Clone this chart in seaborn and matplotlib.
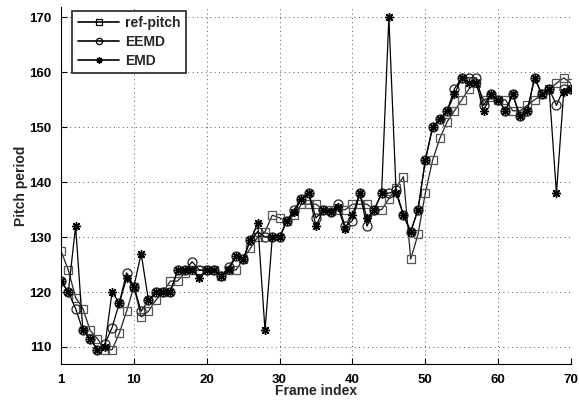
import matplotlib
matplotlib.use("Agg")
import matplotlib.pyplot as plt
import seaborn as sns
import numpy as np
import pandas as pd

frames = list(range(0, 71))
ref_pitch = [127.5, 124, 119, 117, 113, 111.5, 109.5, 109.5, 112.5, 116.5,
             121, 115.5, 116.5, 118.5, 120, 122, 122, 123.5, 124, 124,
             124, 124, 123, 124, 124, 126, 128, 130, 131, 134,
             133.5, 133, 134, 136, 136, 136, 135, 135, 135, 135,
             136, 136, 136, 135, 135, 137, 139, 141, 126, 130.5,
             138, 144, 148, 151, 153, 155, 157, 158, 155, 155.5,
             155, 155, 153, 153, 154, 155, 156, 157, 158, 159, 158]
eemd = [122, 120, 117, 113, 111.5, 109.5, 110.5, 113.5, 118, 123.5,
        121, 116.5, 118.5, 120, 120, 120, 124, 124, 125.5, 124,
        124, 124, 123, 124.5, 126.5, 126, 129.5, 131, 130, 130,
        130, 133, 135, 137, 138, 133.5, 135, 134.5, 136, 132,
        133, 138, 132, 135, 138, 138, 138.5, 134, 131, 135,
        144, 150, 151.5, 153, 157, 159, 159, 159, 154, 156,
        155, 153, 156, 152, 153, 159, 156, 157, 154, 157, 157]
emd = [122, 120, 132, 113, 111.5, 109.5, 110, 120, 118, 122.5,
       121, 127, 118.5, 120, 120, 120, 124, 124, 124, 122.5,
       124, 124, 123, 124, 126.5, 126, 129.5, 132.5, 113, 130,
       130, 133, 134.5, 137, 138, 132, 135, 134.5, 135.5, 131.5,
       134, 138, 133.5, 135, 138, 170, 138, 134, 131, 135,
       144, 150, 151.5, 153, 156, 159, 158, 158, 153, 156,
       155, 153, 156, 152, 153, 159, 156, 157, 138, 156.5, 157]

xtick_pos = [0, 10, 20, 30, 40, 50, 60, 70]
xtick_labels = ["1", "10", "20", "30", "40", "50", "60", "70"]
ytick_pos = [110, 120, 130, 140, 150, 160, 170]

sns.set_theme(style="white")
plt.rcParams["font.family"] = ["Liberation Sans", "DejaVu Sans"]
plt.rcParams["font.weight"] = "bold"

fig = plt.figure(figsize=(5.79, 4.01), dpi=100)
ax = fig.add_axes([0.1054, 0.0923, 0.8808, 0.8902])

lw = 0.9
sns.lineplot(x=frames, y=ref_pitch, ax=ax, color="#222222", linewidth=lw,
             marker="s", markersize=5.5, markerfacecolor="none",
             markeredgecolor="#555555", markeredgewidth=0.9,
             label="ref-pitch", estimator=None, sort=False)
sns.lineplot(x=frames, y=eemd, ax=ax, color="black", linewidth=lw,
             marker="o", markersize=6.5, markerfacecolor="none",
             markeredgecolor="#222222", markeredgewidth=0.9,
             label="EEMD", estimator=None, sort=False)
sns.lineplot(x=frames, y=emd, ax=ax, color="black", linewidth=lw,
             marker=(8, 2, 0), markersize=6.5,
             markeredgecolor="black", markeredgewidth=1.0,
             label="EMD", estimator=None, sort=False)

ax.set_xlim(0, 70)
ax.set_ylim(106.9, 171.9)
ax.set_xticks(xtick_pos)
ax.set_xticklabels(xtick_labels)
ax.set_yticks(ytick_pos)
ax.tick_params(direction="in", length=4, width=0.8, colors="black",
               labelsize=9.5, pad=7, bottom=True, left=True)
for lab in ax.get_xticklabels() + ax.get_yticklabels():
    lab.set_fontweight("bold")

ax.grid(True, linestyle=(0, (1, 3.5)), color="#555555", linewidth=0.7)
for s in ["top", "right"]:
    ax.spines[s].set_visible(False)
for s in ["left", "bottom"]:
    ax.spines[s].set_color("black")
    ax.spines[s].set_linewidth(0.8)

ax.set_xlabel("Frame index", fontsize=10, fontweight="bold", labelpad=-1)
ax.set_ylabel("Pitch period", fontsize=10, fontweight="bold", labelpad=1)

leg = ax.legend(loc="upper left", bbox_to_anchor=(0.022, 0.99),
                frameon=True, fancybox=False, edgecolor="black",
                fontsize=10, handlelength=3.0, borderpad=0.4,
                labelspacing=0.35, handletextpad=0.4, borderaxespad=0)
leg.get_frame().set_linewidth(1.3)
for t in leg.get_texts():
    t.set_fontweight("bold")
for h in leg.get_lines():
    h.set_color("black")
    h.set_linewidth(1.2)
    h.set_markeredgecolor("black")
    h.set_markersize(4.5)

fig.savefig("out.png", dpi=100)
